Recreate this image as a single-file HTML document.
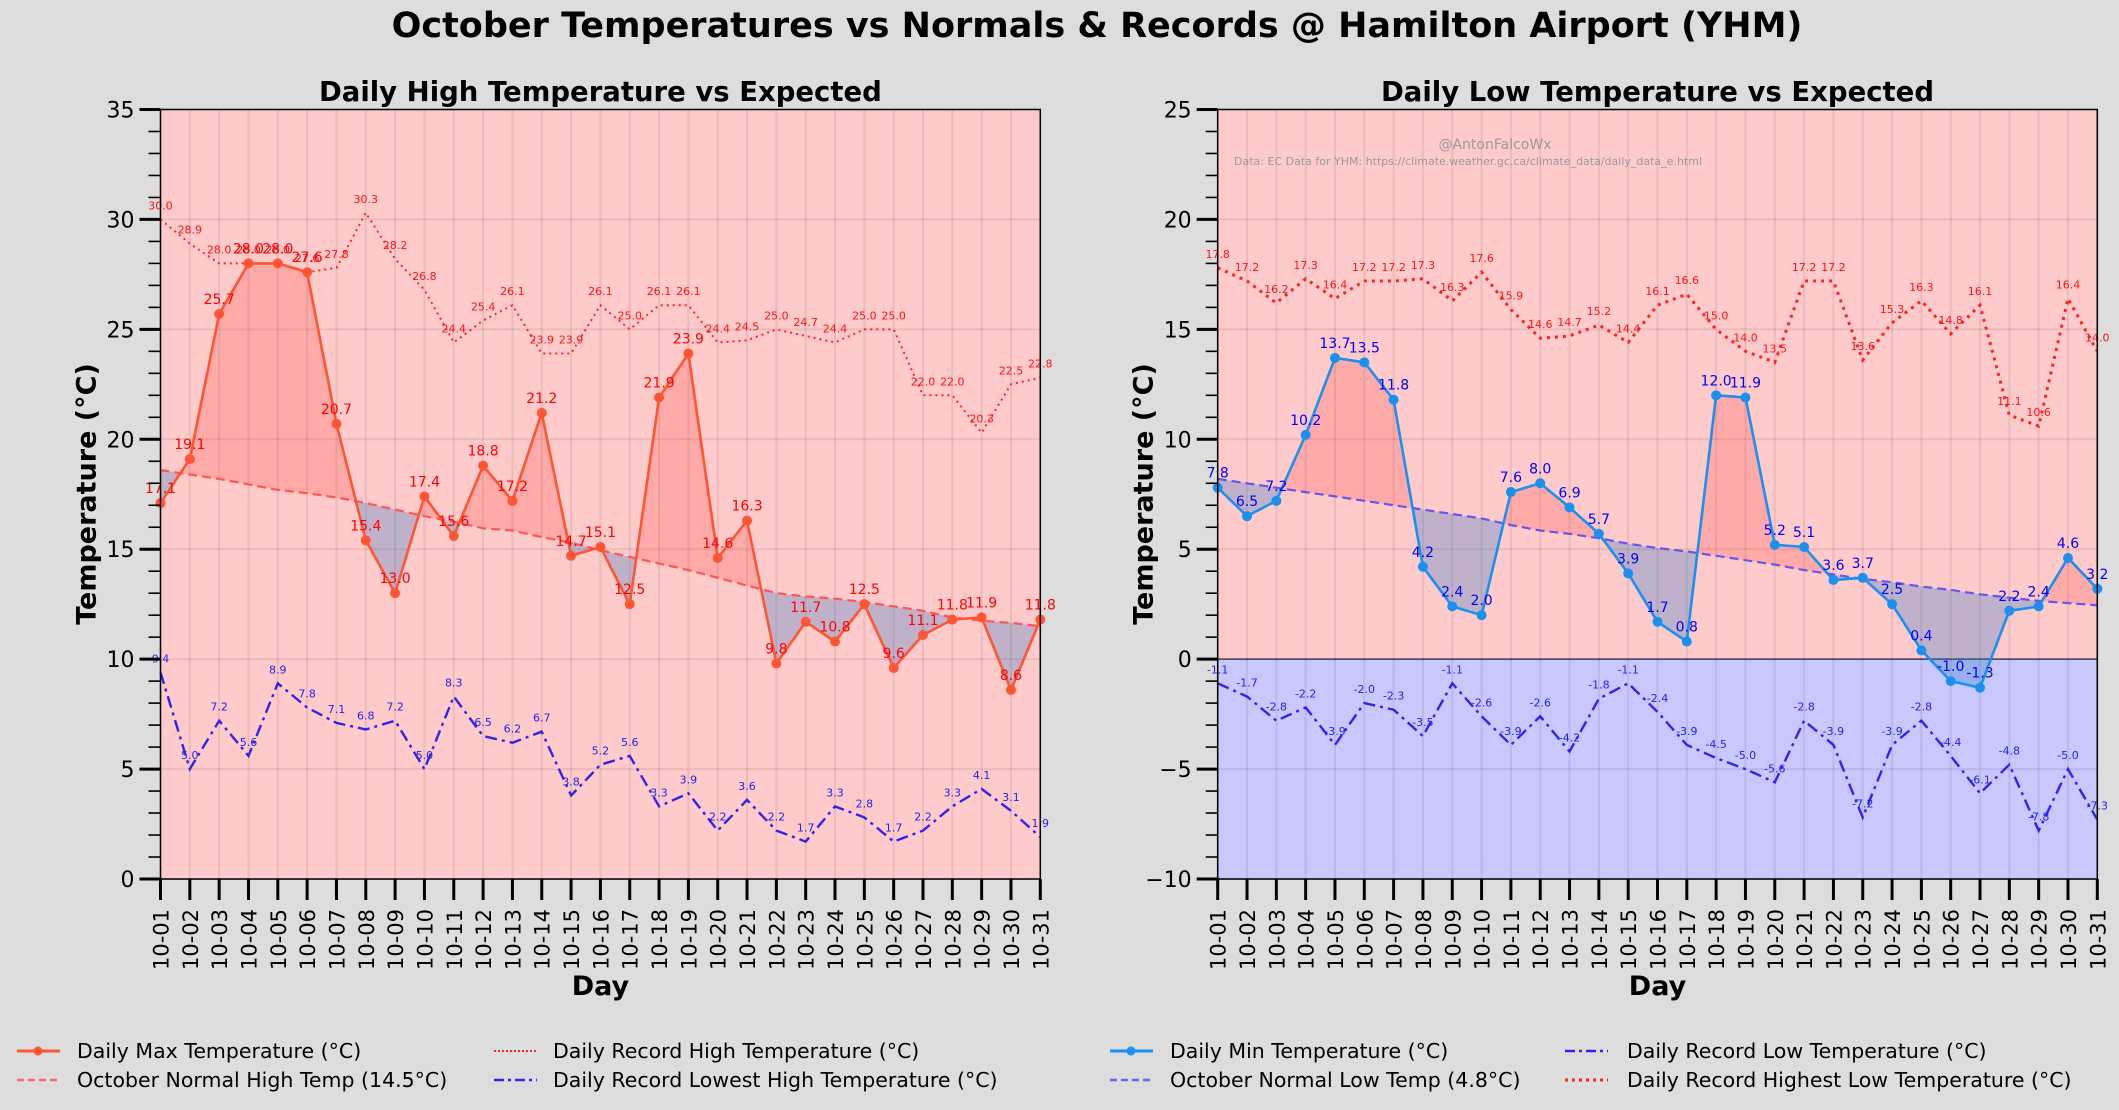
<!DOCTYPE html>
<html><head><meta charset="utf-8"><style>
html,body{margin:0;padding:0;background:#dddddd;}
svg{display:block;font-family:"DejaVu Sans","Liberation Sans",sans-serif;}
</style></head><body>
<svg id="root" width="2119" height="1110" viewBox="0 0 2119 1110" xmlns="http://www.w3.org/2000/svg">
<rect width="2119" height="1110" fill="#dddddd"/>
<text x="1097" y="37" text-anchor="middle" font-size="35" font-weight="bold" fill="#000">October Temperatures vs Normals &amp; Records @ Hamilton Airport (YHM)</text>
<g id="left"></g>
<g id="right"></g>
<g id="legends"></g>
</svg>
<script>
const days = ["10-01","10-02","10-03","10-04","10-05","10-06","10-07","10-08","10-09","10-10","10-11","10-12","10-13","10-14","10-15","10-16","10-17","10-18","10-19","10-20","10-21","10-22","10-23","10-24","10-25","10-26","10-27","10-28","10-29","10-30","10-31"];
const dailyMax = [17.1,19.1,25.7,28.0,28.0,27.6,20.7,15.4,13.0,17.4,15.6,18.8,17.2,21.2,14.7,15.1,12.5,21.9,23.9,14.6,16.3,9.8,11.7,10.8,12.5,9.6,11.1,11.8,11.9,8.6,11.8];
const normalHigh = [18.6,18.4,18.2,17.95,17.7,17.55,17.35,17.1,16.8,16.5,16.25,15.95,15.85,15.55,15.3,14.95,14.65,14.35,14.05,13.7,13.35,13.0,12.85,12.75,12.6,12.4,12.2,11.9,11.75,11.65,11.5];
const recordHigh = [30.0,28.9,28.0,28.0,28.0,27.6,27.8,30.3,28.2,26.8,24.4,25.4,26.1,23.9,23.9,26.1,25.0,26.1,26.1,24.4,24.5,25.0,24.7,24.4,25.0,25.0,22.0,22.0,20.3,22.5,22.8];
const recordLowestHigh = [9.4,5.0,7.2,5.6,8.9,7.8,7.1,6.8,7.2,5.0,8.3,6.5,6.2,6.7,3.8,5.2,5.6,3.3,3.9,2.2,3.6,2.2,1.7,3.3,2.8,1.7,2.2,3.3,4.1,3.1,1.9];
const dailyMin = [7.8,6.5,7.2,10.2,13.7,13.5,11.8,4.2,2.4,2.0,7.6,8.0,6.9,5.7,3.9,1.7,0.8,12.0,11.9,5.2,5.1,3.6,3.7,2.5,0.4,-1.0,-1.3,2.2,2.4,4.6,3.2];
const normalLow = [8.2,8.0,7.8,7.6,7.4,7.2,7.0,6.8,6.6,6.4,6.1,5.85,5.7,5.5,5.25,5.05,4.9,4.7,4.5,4.3,4.05,3.85,3.65,3.5,3.3,3.15,2.95,2.8,2.65,2.55,2.45];
const recordLow = [-1.1,-1.7,-2.8,-2.2,-3.9,-2.0,-2.3,-3.5,-1.1,-2.6,-3.9,-2.6,-4.2,-1.8,-1.1,-2.4,-3.9,-4.5,-5.0,-5.6,-2.8,-3.9,-7.2,-3.9,-2.8,-4.4,-6.1,-4.8,-7.8,-5.0,-7.3];
const recordHighestLow = [17.8,17.2,16.2,17.3,16.4,17.2,17.2,17.3,16.3,17.6,15.9,14.6,14.7,15.2,14.4,16.1,16.6,15.0,14.0,13.5,17.2,17.2,13.6,15.3,16.3,14.8,16.1,11.1,10.6,16.4,14.0];
const leftTicks = [0,5,10,15,20,25,30,35];
const rightTicks = [-10,-5,0,5,10,15,20,25];

const NS="http://www.w3.org/2000/svg";
function mk(parent,tag,attrs,text){const e=document.createElementNS(NS,tag);for(const k in attrs)e.setAttribute(k,attrs[k]);if(text!==undefined)e.textContent=text;parent.appendChild(e);return e;}

function panel(g,o){
  const X0=o.x0,X1=o.x1,Y0=109.5,Y1=879;
  const xs=i=>X0+(X1-X0)*i/(days.length-1);
  const ys=v=>Y1-(Y1-Y0)*(v-o.ymin)/(o.ymax-o.ymin);
  let bg=mk(g,'rect',{x:X0,y:Y0,width:X1-X0,height:Y1-Y0,fill:'#ffcaca'});
  
  
  if(o.ymin<0){
    let nb=mk(g,'rect',{x:X0,y:ys(0),width:X1-X0,height:Y1-ys(0),fill:'#c8c8ff'});
    
    
    let zl=mk(g,'line',{x1:X0,x2:X1,y1:ys(0),y2:ys(0),stroke:'#444466','stroke-width':1.5});
    
    
  }
  for(let i=0;i<days.length;i++){
    let l=mk(g,'line',{x1:xs(i),x2:xs(i),y1:Y0,y2:Y1,stroke:'rgba(0,0,0,0.08)','stroke-width':2});
    
    
  }
  o.ticks.forEach(t=>{
    let l=mk(g,'line',{x1:X0,x2:X1,y1:ys(t),y2:ys(t),stroke:'rgba(0,0,0,0.08)','stroke-width':2});
    
    
  });
  const A=o.actual,N=o.normal;
  for(let i=0;i<A.length-1;i++){
    const d0=A[i]-N[i],d1=A[i+1]-N[i+1];
    const segs=[];
    if(d0*d1<0){
      const t=d0/(d0-d1);
      const xm=i+t, vm=N[i]+(N[i+1]-N[i])*t;
      segs.push([[i,A[i],N[i]],[xm,vm,vm],d0]);
      segs.push([[xm,vm,vm],[i+1,A[i+1],N[i+1]],d1]);
    } else segs.push([[i,A[i],N[i]],[i+1,A[i+1],N[i+1]],d0+d1]);
    segs.forEach(s=>{
      const p=s[0],q=s[1];
      const pts=`${xs(p[0])},${ys(p[1])} ${xs(q[0])},${ys(q[1])} ${xs(q[0])},${ys(q[2])} ${xs(p[0])},${ys(p[2])}`;
      let poly=mk(g,'polygon',{points:pts,fill:s[2]>=0?'rgba(255,0,0,0.16)':'rgba(42,119,199,0.3)'});
      
      
    });
  }
  const path=arr=>arr.map((v,i)=>(i?'L':'M')+xs(i).toFixed(1)+','+ys(v).toFixed(1)).join(' ');
  let nl=mk(g,'path',{d:path(N),fill:'none',stroke:o.normalColor,'stroke-width':2.2,'stroke-dasharray':'9,5'});
  
  
  let r1=mk(g,'path',{d:path(o.recUpper),fill:'none',stroke:'#ff2222','stroke-width':o.recUpperW,'stroke-dasharray':o.recUpperDash});
  
  
  let r2=mk(g,'path',{d:path(o.recLower),fill:'none',stroke:'#3322ee','stroke-width':2.4,'stroke-dasharray':'12,5,3,5'});
  
  
  o.recUpper.forEach((v,i)=>{
    let t=mk(g,'text',{x:xs(i),y:ys(v)-10,'text-anchor':'middle','font-size':11,fill:'#ff1111'},v.toFixed(1));
    
    
  });
  o.recLower.forEach((v,i)=>{
    let t=mk(g,'text',{x:xs(i),y:ys(v)-10,'text-anchor':'middle','font-size':11,fill:'#2222ee'},v.toFixed(1));
    
    
  });
  let al=mk(g,'path',{d:path(A),fill:'none',stroke:o.actColor,'stroke-width':2.6});
  
  
  A.forEach((v,i)=>{
    let c=mk(g,'circle',{cx:xs(i),cy:ys(v),r:5,fill:o.actColor});
    
    
    let t=mk(g,'text',{x:xs(i),y:ys(v)-10,'text-anchor':'middle','font-size':14,fill:o.labelColor},v.toFixed(1));
    
    
  });
  let fr=mk(g,'rect',{x:X0,y:Y0,width:X1-X0,height:Y1-Y0,fill:'none',stroke:'#000','stroke-width':1.5});
  
  
  for(let v=o.ymin;v<=o.ymax;v++){
    const major=o.ticks.includes(v);
    let l=mk(g,'line',{x1:X0-(major?21:12),x2:X0,y1:ys(v),y2:ys(v),stroke:'#000','stroke-width':major?3:1.6});
    
    
  }
  o.ticks.forEach(t=>{
    let tx=mk(g,'text',{x:X0-26,y:ys(t)+8,'text-anchor':'end','font-size':22,fill:'#000'},t<0?'\u2212'+(-t):String(t));
    
    
  });
  days.forEach((d,i)=>{
    let l=mk(g,'line',{x1:xs(i),x2:xs(i),y1:Y1,y2:Y1+21,stroke:'#000','stroke-width':3});
    
    
    let t=mk(g,'text',{x:0,y:0,'text-anchor':'end','font-size':21,fill:'#000',transform:`translate(${xs(i)+8},909) rotate(-90)`},d);
    
    
  });
  let xt=mk(g,'text',{x:(X0+X1)/2,y:995,'text-anchor':'middle','font-size':27,'font-weight':'bold'},'Day');
  
  
  let yt=mk(g,'text',{x:0,y:0,'text-anchor':'middle','font-size':27,'font-weight':'bold',transform:`translate(${X0-65},494) rotate(-90)`},'Temperature (°C)');
  
  
  let st=mk(g,'text',{x:(X0+X1)/2,y:101,'text-anchor':'middle','font-size':27.5,'font-weight':'bold'},o.title);
  
  
  return {xs,ys};
}

panel(document.getElementById('left'),{x0:160.5,x1:1040.3,ymin:0,ymax:35,ticks:leftTicks,actual:dailyMax,normal:normalHigh,recUpper:recordHigh,recLower:recordLowestHigh,actColor:'#ff5533',labelColor:'#ff0000',normalColor:'#ff5555',recUpperW:2,recUpperDash:'2,4',title:'Daily High Temperature vs Expected'});
panel(document.getElementById('right'),{x0:1217.7,x1:2097.3,ymin:-10,ymax:25,ticks:rightTicks,actual:dailyMin,normal:normalLow,recUpper:recordHighestLow,recLower:recordLow,actColor:'#1a90f0',labelColor:'#0000ff',normalColor:'#6655ee',recUpperW:3,recUpperDash:'3,5',title:'Daily Low Temperature vs Expected'});

const rg=document.getElementById('right');
let wm=mk(rg,'text',{x:1495,y:149,'text-anchor':'middle','font-size':14,fill:'#999'},'@AntonFalcoWx');


let src=mk(rg,'text',{x:1234,y:165,'font-size':11,fill:'#999'},'Data: EC Data for YHM: https://climate.weather.gc.ca/climate_data/daily_data_e.html');



const lg=document.getElementById('legends');
function entry(x,y,color,dash,w,dot,label,tx){
  const g=mk(lg,'g',{});
  
  
  mk(g,'line',{x1:x,x2:x+43,y1:y,y2:y,stroke:color,'stroke-width':w,'stroke-dasharray':dash});
  if(dot) mk(g,'circle',{cx:x+21,cy:y,r:4.5,fill:color});
  mk(g,'text',{x:tx,y:y+7,'font-size':20.5,fill:'#000'},label);
}
entry(17,1051,'#ff5533','none',3,true,'Daily Max Temperature (°C)',77);
entry(17,1080,'#ff6666','7,4',2.5,false,'October Normal High Temp (14.5°C)',77);
entry(494,1051,'#ff2222','2,2',2,false,'Daily Record High Temperature (°C)',553);
entry(494,1080,'#3322ee','10,4,3,4',2.5,false,'Daily Record Lowest High Temperature (°C)',553);
entry(1110,1051,'#1a90f0','none',3,true,'Daily Min Temperature (°C)',1170);
entry(1110,1080,'#6666ff','7,4',2.5,false,'October Normal Low Temp (4.8°C)',1170);
entry(1565,1051,'#3322ee','10,4,3,4',2.5,false,'Daily Record Low Temperature (°C)',1627);
entry(1565,1080,'#ff2222','3,4',3,false,'Daily Record Highest Low Temperature (°C)',1627);
</script>
</body></html>
